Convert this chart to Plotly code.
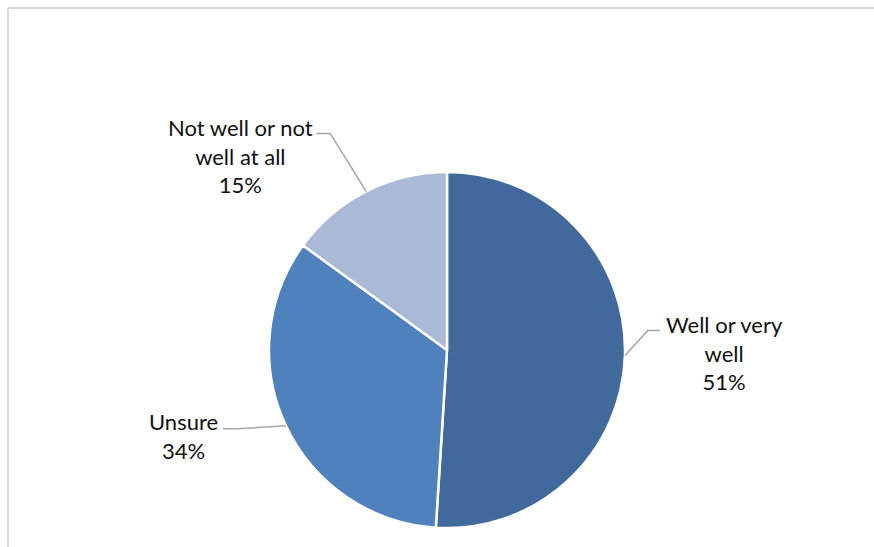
import math
import plotly.graph_objects as go

# ---- data ----
categories = ["Well or very well", "Unsure", "Not well or not well at all"]
values = [51, 34, 15]
label_lines = [["Well or very", "well"], ["Unsure"], ["Not well or not", "well at all"]]
colors = ["#41699C", "#4F81BD", "#AAB9D6"]

W, H = 874, 547
cx, cy, R = 447, 350, 178  # pie centre / radius in px (layout)

# label layout (px offsets relative to anchor on the rim): elbow, line end, text centre
label_layout = [
    dict(elbow=(23, -25), end=(35, -25), text=(100, -3)),
    dict(elbow=(-48, 3), end=(-63, 3), text=(-102, 10)),
    dict(elbow=(-36, -58), end=(-50, -58), text=(-126, -35)),
]

fig = go.Figure()
fig.add_trace(go.Pie(
    labels=categories, values=values, sort=False, direction="clockwise", rotation=0,
    marker=dict(colors=colors, line=dict(color="white", width=2.5)),
    textinfo="none", hoverinfo="label+percent", showlegend=False,
    domain=dict(x=[(cx - R) / W, (cx + R) / W], y=[1 - (cy + R) / H, 1 - (cy - R) / H]),
))

def px2paper(x, y):
    return x / W, 1 - y / H

shapes = []
annotations = []
total = sum(values)
cum = 0
for v, lines, lay in zip(values, label_lines, label_layout):
    frac_mid = (cum + v / 2) / total
    cum += v
    ang = math.radians(90 - frac_mid * 360)
    ax = cx + R * math.cos(ang)
    ay = cy - R * math.sin(ang)
    ex, ey = ax + lay["elbow"][0], ay + lay["elbow"][1]
    tx, ty = ax + lay["end"][0], ay + lay["end"][1]
    path = "M {} {} L {} {} L {} {}".format(*px2paper(ax, ay), *px2paper(ex, ey), *px2paper(tx, ty))
    shapes.append(dict(type="path", xref="paper", yref="paper", path=path,
                       line=dict(color="#A6A6A6", width=1.5)))
    lx, ly = px2paper(ax + lay["text"][0], ay + lay["text"][1])
    pct = round(v / total * 100)
    annotations.append(dict(
        x=lx, y=ly, xref="paper", yref="paper", showarrow=False,
        text="<br>".join(lines + [f"{pct}%"]), align="center",
        xanchor="center", yanchor="middle",
        font=dict(family="Lato, Open Sans, sans-serif", size=22, color="#111111"),
    ))

# chart frame (partially visible)
shapes.append(dict(type="line", xref="paper", yref="paper", x0=8 / W, x1=1.01, y0=1 - 8 / H, y1=1 - 8 / H,
                   line=dict(color="#D9D9D9", width=2)))
shapes.append(dict(type="line", xref="paper", yref="paper", x0=8 / W, x1=8 / W, y0=-0.01, y1=1 - 8 / H,
                   line=dict(color="#D9D9D9", width=2)))

fig.update_layout(
    width=W, height=H, margin=dict(l=0, r=0, t=0, b=0),
    paper_bgcolor="white", plot_bgcolor="white",
    shapes=shapes, annotations=annotations,
)
fig.write_html("out.html")
